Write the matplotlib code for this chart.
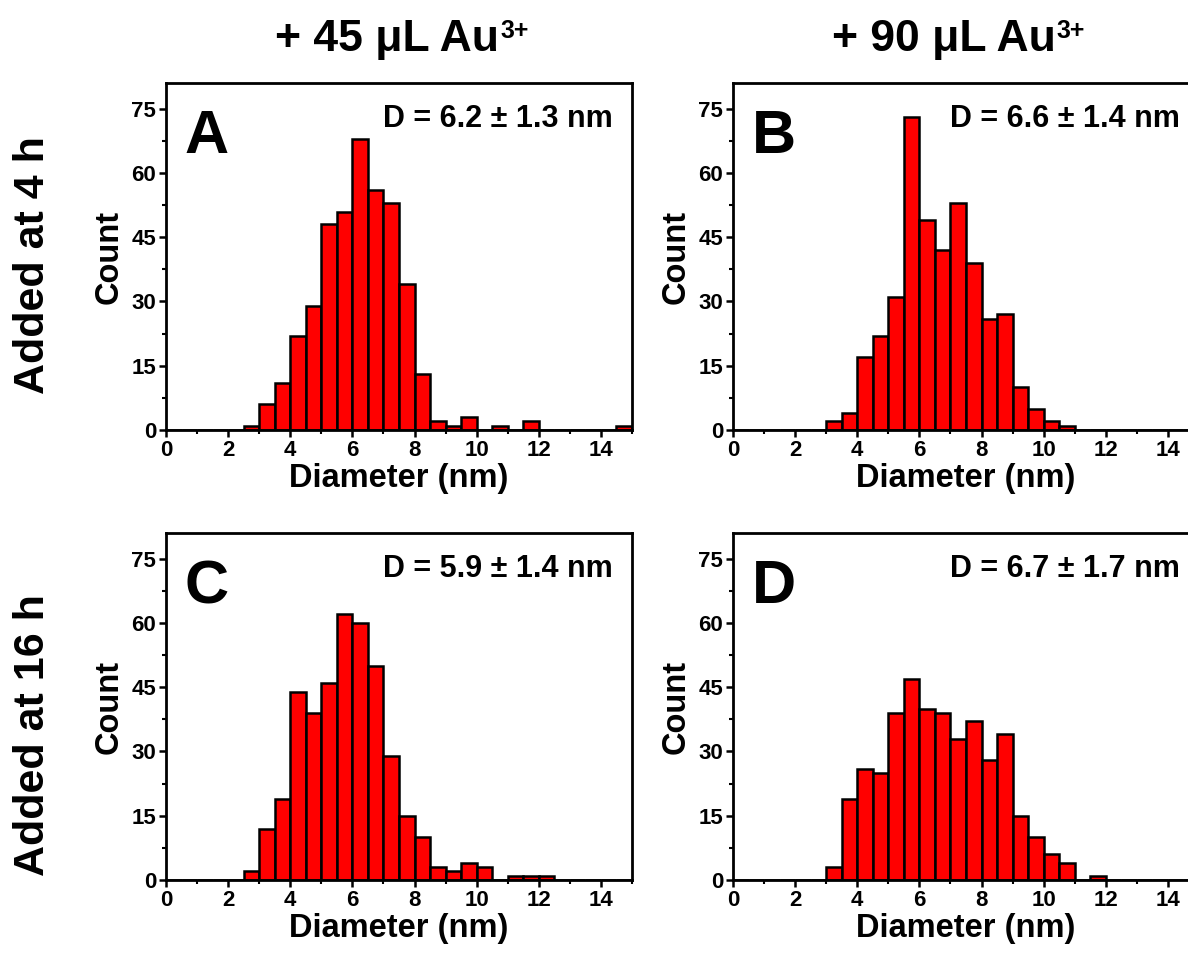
import numpy as np
import matplotlib
matplotlib.use("Agg")
from matplotlib import pyplot as plt
from matplotlib.ticker import MultipleLocator

plt.rcParams['font.family'] = ['Liberation Sans', 'DejaVu Sans']
plt.rcParams['font.weight'] = 'bold'

# bin left edges (nm), 0.5 nm wide
bins = np.arange(0, 15, 0.5)

countsA = [0, 0, 0, 0, 0, 1, 6, 11, 22, 29, 48, 51, 68, 56, 53,
           34, 13, 2, 1, 3, 0, 1, 0, 2, 0, 0, 0, 0, 0, 1]
countsB = [0, 0, 0, 0, 0, 0, 2, 4, 17, 22, 31, 73, 49, 42, 53,
           39, 26, 27, 10, 5, 2, 1, 0, 0, 0, 0, 0, 0, 0, 0]
countsC = [0, 0, 0, 0, 0, 2, 12, 19, 44, 39, 46, 62, 60, 50, 29,
           15, 10, 3, 2, 4, 3, 0, 1, 1, 1, 0, 0, 0, 0, 0]
countsD = [0, 0, 0, 0, 0, 0, 3, 19, 26, 25, 39, 47, 40, 39, 33,
           37, 28, 34, 15, 10, 6, 4, 0, 1, 0, 0, 0, 0, 0, 0]

letters = ['A', 'B', 'C', 'D']
stats = ['D = 6.2 ± 1.3 nm', 'D = 6.6 ± 1.4 nm', 'D = 5.9 ± 1.4 nm', 'D = 6.7 ± 1.7 nm']
col_titles = ['+ 45 μL Au', '+ 90 μL Au']
col_sup = '3+'
row_titles = ['Added at 4 h', 'Added at 16 h']

W, H = 1188, 964
fig = plt.figure(figsize=(W / 100, H / 100), dpi=100)

# axes boxes in pixels
lefts = [166, 733]
bottoms = [430, 880]
aw, ah = 466, 347

allcounts = [countsA, countsB, countsC, countsD]
for i in range(4):
    r, c = divmod(i, 2)
    ax = fig.add_axes([lefts[c] / W, (H - bottoms[r]) / H, aw / W, ah / H])
    ax.bar(bins, allcounts[i], width=0.5, align='edge', color='#ff0000',
           edgecolor='black', linewidth=1.8)
    ax.set_xlim(0, 15)
    ax.set_ylim(0, 81)
    ax.xaxis.set_major_locator(MultipleLocator(2))
    ax.xaxis.set_minor_locator(MultipleLocator(1))
    ax.yaxis.set_major_locator(MultipleLocator(15))
    ax.yaxis.set_minor_locator(MultipleLocator(7.5))
    ax.tick_params(which='major', direction='out', length=5, width=1.8,
                   labelsize=16, pad=2)
    ax.tick_params(which='minor', direction='out', length=3, width=1.5)
    for sp in ax.spines.values():
        sp.set_linewidth(2)
    for lab in ax.get_xticklabels() + ax.get_yticklabels():
        lab.set_fontweight('bold')
    ax.set_xlabel('Diameter (nm)', fontsize=23.5, fontweight='bold', labelpad=2)
    ax.set_ylabel('Count', fontsize=23.5, fontweight='bold', labelpad=5)
    ax.text(0.04, 0.925, letters[i], transform=ax.transAxes, fontsize=44,
            fontweight='bold', ha='left', va='top')
    ax.text(0.958, 0.94, stats[i], transform=ax.transAxes, fontsize=22,
            fontweight='bold', ha='right', va='top')

# column titles with superscript
renderer = fig.canvas.get_renderer()
for cx, title in zip([387, 944], col_titles):
    t = fig.text(cx / W, 1 - 40 / H, title, fontsize=32, fontweight='bold',
                 ha='center', va='center')
    bb = t.get_window_extent(renderer)
    fig.text((bb.x1 + 1) / W, (bb.y1 + 1) / H, col_sup, fontsize=18,
             fontweight='bold', ha='left', va='top')

fig.text(33 / W, 1 - 265 / H, row_titles[0], fontsize=31, fontweight='bold',
         ha='center', va='center', rotation=90)
fig.text(33 / W, 1 - 735 / H, row_titles[1], fontsize=31, fontweight='bold',
         ha='center', va='center', rotation=90)

fig.savefig('out.png', dpi=100, facecolor='white')
